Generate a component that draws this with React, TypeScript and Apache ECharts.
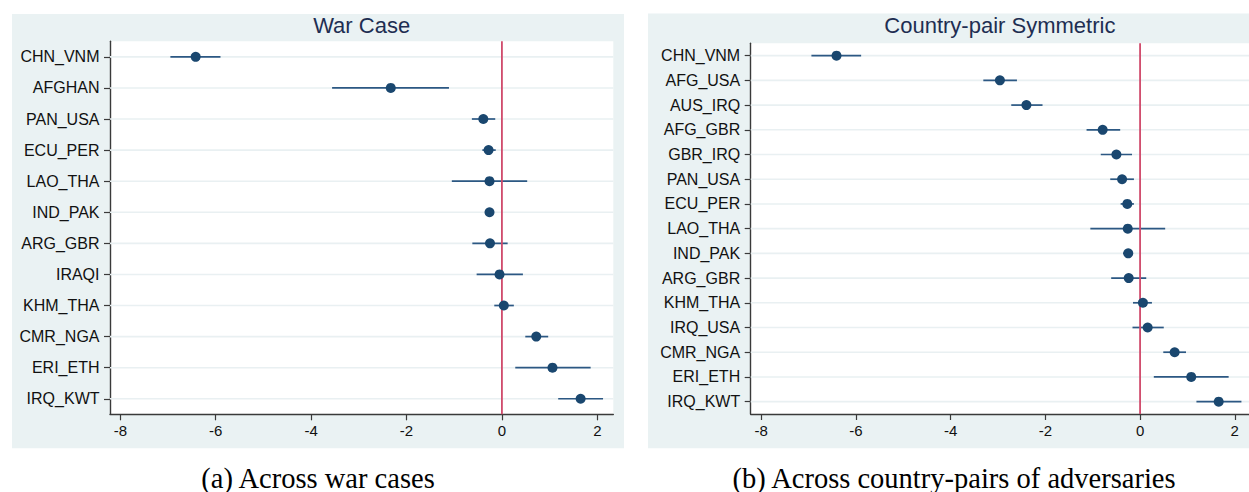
import React, { useEffect, useRef } from "react";
import * as echarts from "echarts";

// ---------- data ----------
const warCases = ["CHN_VNM", "AFGHAN", "PAN_USA", "ECU_PER", "LAO_THA", "IND_PAK", "ARG_GBR", "IRAQI", "KHM_THA", "CMR_NGA", "ERI_ETH", "IRQ_KWT"];
const warEst = [-6.42, -2.33, -0.39, -0.28, -0.26, -0.26, -0.25, -0.05, 0.04, 0.72, 1.06, 1.65];
const warLo = [-6.95, -3.56, -0.63, -0.41, -1.05, -0.35, -0.62, -0.53, -0.16, 0.49, 0.28, 1.18];
const warHi = [-5.9, -1.11, -0.14, -0.13, 0.53, -0.17, 0.12, 0.44, 0.25, 0.97, 1.86, 2.12];

const pairs = ["CHN_VNM", "AFG_USA", "AUS_IRQ", "AFG_GBR", "GBR_IRQ", "PAN_USA", "ECU_PER", "LAO_THA", "IND_PAK", "ARG_GBR", "KHM_THA", "IRQ_USA", "CMR_NGA", "ERI_ETH", "IRQ_KWT"];
const pairEst = [-6.41, -2.96, -2.4, -0.79, -0.5, -0.38, -0.27, -0.26, -0.25, -0.24, 0.06, 0.16, 0.73, 1.08, 1.66];
const pairLo = [-6.94, -3.31, -2.72, -1.13, -0.83, -0.63, -0.41, -1.05, -0.36, -0.61, -0.15, -0.16, 0.49, 0.29, 1.19];
const pairHi = [-5.89, -2.6, -2.06, -0.42, -0.17, -0.13, -0.13, 0.53, -0.15, 0.13, 0.25, 0.5, 0.97, 1.87, 2.14];

const xTicks = [-8, -6, -4, -2, 0, 2];

const titles = ["War Case", "Country-pair Symmetric"];
const captions = ["(a) Across war cases", "(b) Across country-pairs of adversaries"];

// ---------- styles ----------
const FONT = "Liberation Sans";
const SERIF = "Liberation Serif";
const NAVY = "#1a476f";
const BAR = "#2c5883";
const RED = "#d04a6b";
const GRIDLINE = "#e9f0f2";
const BG = "#eaf2f3";
const AXIS = "#3a3a3a";

const panels = [
  { cats: warCases, est: warEst, lo: warLo, hi: warHi, grid: { left: 110, top: 41.3, width: 503.3, height: 373 }, xMin: -8.216, xMax: 2.335, box: { x: 12, y: 14, width: 612, height: 434.3 } },
  { cats: pairs, est: pairEst, lo: pairLo, hi: pairHi, grid: { left: 750.7, top: 43.3, width: 498.3, height: 370.7 }, xMin: -8.222, xMax: 2.3, box: { x: 648, y: 13.5, width: 612, height: 434.8 } },
];

export default function App() {
  const ref = useRef<HTMLDivElement>(null);

  useEffect(() => {
    if (!ref.current) return;
    const chart = echarts.init(ref.current, undefined, { renderer: "svg" });

    const grids: any[] = [];
    const xAxes: any[] = [];
    const yAxes: any[] = [];
    const series: any[] = [];
    const graphics: any[] = [];

    panels.forEach((p, i) => {
      graphics.push({ type: "rect", z: -10, silent: true, shape: { ...p.box }, style: { fill: BG } });
      const cx = p.grid.left + p.grid.width / 2;
      graphics.push({
        type: "text", z: 10, x: cx, y: 25,
        style: { text: titles[i], fill: "#1e2e52", font: `22px "${FONT}"`, textAlign: "center", textVerticalAlign: "middle" },
      });
      graphics.push({
        type: "text", z: 10, x: p.box.x + p.box.width / 2, y: 478,
        style: { text: captions[i], fill: "#000", font: `28.5px "${SERIF}"`, textAlign: "center", textVerticalAlign: "middle" },
      });

      grids.push({ ...p.grid, show: true, backgroundColor: "#ffffff", borderWidth: 0, containLabel: false });
      xAxes.push({
        type: "value", gridIndex: i, min: p.xMin, max: p.xMax,
        splitLine: { show: false },
        axisLine: { show: true, onZero: false, lineStyle: { color: AXIS, width: 1.4 } },
        axisTick: { show: true, length: 6, lineStyle: { color: AXIS, width: 1.2 }, customValues: xTicks },
        axisLabel: { color: "#111", fontFamily: FONT, fontSize: 15, margin: 9, customValues: xTicks },
      });
      yAxes.push({
        type: "category", gridIndex: i, data: p.cats, inverse: true,
        axisLine: { show: true, onZero: false, lineStyle: { color: AXIS, width: 1.4 } },
        axisTick: { show: true, length: 6, alignWithLabel: true, interval: 0, lineStyle: { color: AXIS, width: 1.2 } },
        axisLabel: { color: "#111", fontFamily: FONT, fontSize: 16, margin: 10.5, interval: 0 },
        splitLine: { show: false },
      });

      // horizontal gridlines at each category
      series.push({
        type: "custom", xAxisIndex: i, yAxisIndex: i, z: 1, silent: true,
        data: p.cats.map((_, k) => [k]),
        encode: { y: 0 },
        renderItem: (params: any, api: any) => {
          const pt = api.coord([0, api.value(0)]);
          const cs = params.coordSys;
          return { type: "line", shape: { x1: cs.x, y1: pt[1], x2: cs.x + cs.width, y2: pt[1] }, style: { stroke: GRIDLINE, lineWidth: 1.6 } };
        },
      });
      // confidence intervals
      series.push({
        type: "custom", xAxisIndex: i, yAxisIndex: i, z: 2, silent: true,
        data: p.cats.map((_, k) => [k, p.lo[k], p.hi[k]]),
        encode: { y: 0, x: [1, 2] },
        renderItem: (params: any, api: any) => {
          const a = api.coord([api.value(1), api.value(0)]);
          const b = api.coord([api.value(2), api.value(0)]);
          return { type: "line", shape: { x1: a[0], y1: a[1], x2: b[0], y2: b[1] }, style: { stroke: BAR, lineWidth: 1.7 } };
        },
      });
      // zero line
      series.push({
        type: "custom", xAxisIndex: i, yAxisIndex: i, z: 3, silent: true,
        data: [[0]],
        encode: { x: 0 },
        renderItem: (params: any, api: any) => {
          const pt = api.coord([api.value(0), 0]);
          const cs = params.coordSys;
          return { type: "line", shape: { x1: pt[0], y1: cs.y, x2: pt[0], y2: cs.y + cs.height }, style: { stroke: RED, lineWidth: 1.8 } };
        },
      });
      // point estimates
      series.push({
        type: "scatter", xAxisIndex: i, yAxisIndex: i, z: 4, silent: true,
        symbol: "circle", symbolSize: 10,
        itemStyle: { color: NAVY, opacity: 1 },
        data: p.est.map((v, k) => [v, k]),
      });
    });

    chart.setOption({
      animation: false,
      backgroundColor: "#ffffff",
      textStyle: { fontFamily: FONT },
      grid: grids,
      xAxis: xAxes,
      yAxis: yAxes,
      series,
      graphic: { elements: graphics },
    });

    return () => chart.dispose();
  }, []);

  return <div ref={ref} style={{ position: "absolute", left: 0, top: 0, width: 1249, height: 492 }} />;
}
